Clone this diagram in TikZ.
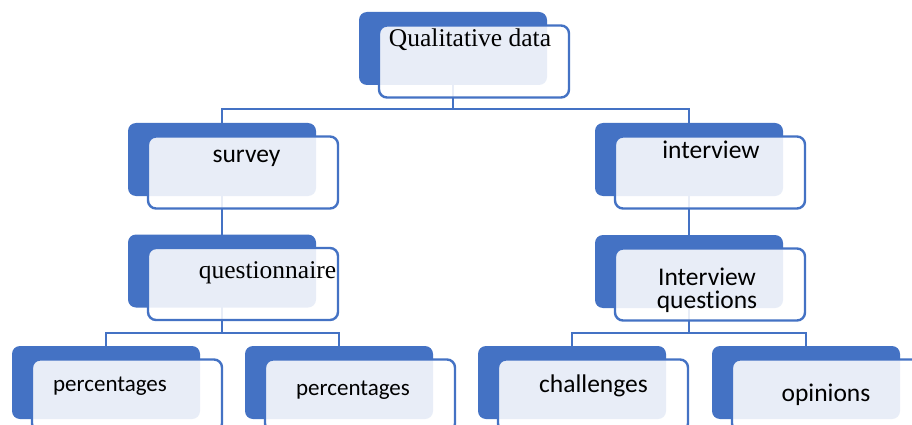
\documentclass[tikz,border=0pt]{standalone}
\usepackage{fontspec}
\setmainfont{Liberation Serif}
\newfontfamily\calib[Ligatures={NoCommon}]{Carlito}
\definecolor{accent}{HTML}{4472C4}
\pgfdeclarelayer{bg}
\pgfsetlayers{bg,main}
\begin{document}
\begin{tikzpicture}[x=1pt,y=-1pt,
  conn/.style={draw=accent, line width=2.8pt},
  backbox/.style={rectangle, fill=accent, rounded corners=8pt,
    minimum width=188pt, minimum height=73pt, inner sep=0pt, outer sep=0pt},
  frontbox/.style={rectangle, draw=accent, line width=2.4pt, fill=white,
    fill opacity=0.88, rounded corners=8pt,
    minimum width=190pt, minimum height=72pt, inner sep=0pt},
  serifcap/.style={anchor=base, inner sep=0pt, font=\fontsize{25.5}{28}\selectfont},
  sanscap/.style={anchor=base, inner sep=0pt, align=center,
    font=\calib\fontsize{25.5}{23}\selectfont},
  smallcap/.style={sanscap, font=\calib\fontsize{23}{26}\selectfont},
]
\useasboundingbox (0,0) rectangle (912,425);
\clip (0,0) rectangle (912,425);

% back (solid) boxes
\node[backbox] (rootb) at (453,48.5) {};
\node[backbox] (survb) at (222,159.5) {};
\node[backbox] (questb) at (222,271) {};
\node[backbox] (intb) at (689,159.5) {};
\node[backbox] (intqb) at (689,271.5) {};
\node[backbox] (pcta) at (106,382.5) {};
\node[backbox] (pctb) at (339,382.5) {};
\node[backbox] (chalb) at (572,382.5) {};
\node[backbox] (opinb) at (806,382.5) {};

% front (outlined) boxes, shifted down and right
\foreach \n in {rootb,survb,questb,intb,intqb,pcta,pctb,chalb,opinb}
  \node[frontbox] (\n-f) at ([shift={(21,13)}]\n.center) {};

% labels
\node[serifcap] (roott) at (470,47) {Qualitative data};
\node[sanscap] (survt) at (246.5,162) {survey};
\node[serifcap] (questt) at (267.5,278) {questionnaire};
\node[sanscap] (intt) at (711,158) {interview};
\node[sanscap] (intqt) at (707,308) {Interview\\questions};
\node[smallcap] (pctat) at (110,391) {percentages};
\node[smallcap] (pctbt) at (353,395) {percentages};
\node[sanscap] (chalt) at (593.5,392) {challenges};
\node[sanscap] (opint) at (826,401) {opinions};

% connectors behind the boxes
\coordinate (bus1) at (453,109);
\coordinate (bus2) at (222,333);
\coordinate (bus3) at (689,333);
\begin{pgfonlayer}{bg}
  \fill[white] (0,0) rectangle (912,425);
  \draw[conn] (rootb.center) -- (bus1);
  \draw[conn] (survb.north) |- (bus1) -| (intb.north);
  \draw[conn] (survb.center) -- (questb.north);
  \draw[conn] (intb.center) -- (intqb.north);
  \draw[conn] (questb.center) -- (bus2);
  \draw[conn] (pcta.north) |- (bus2) -| (pctb.north);
  \draw[conn] (intqb.center) -- (bus3);
  \draw[conn] (chalb.north) |- (bus3) -| (opinb.north);
\end{pgfonlayer}
\end{tikzpicture}
\end{document}
